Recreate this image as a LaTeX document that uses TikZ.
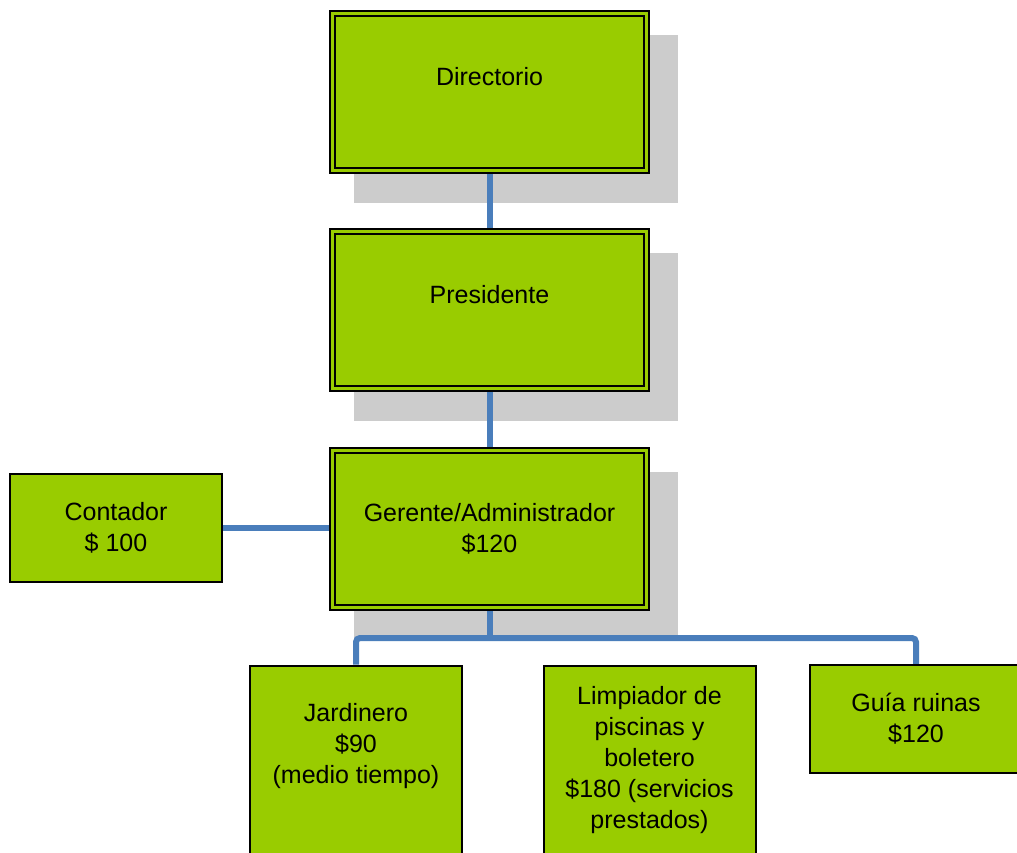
\documentclass[tikz,border=0pt]{standalone}
\usepackage{fontspec}
\setmainfont{Liberation Sans}
\usepackage{xcolor}
\usetikzlibrary{calc}
\usetikzlibrary{backgrounds}
\definecolor{verdecargo}{RGB}{153,204,0}
\definecolor{azulenlace}{RGB}{74,126,187}
\definecolor{grissombra}{RGB}{204,204,204}
\tikzset{
	jefe/.style={draw,fill=verdecargo,line width=2pt,double=verdecargo,double distance=3pt,minimum width=314pt,minimum height=157pt,align=center},
	puesto/.style={draw,fill=verdecargo,line width=2pt,minimum width=212pt,minimum height=108pt,align=center},
	enlace/.style={draw=azulenlace,line width=6pt},
	sombra/.style={fill=grissombra}
}

\begin{document}
\begin{tikzpicture}[x=1pt,y=-1pt,font=\fontsize{25}{31}\selectfont]
	\useasboundingbox (0,0) rectangle (1017,852);
	\node[jefe,text depth=32pt] (directorio) at (489.5,92) {Directorio};
	\node[jefe,text depth=30pt] (presidente) at (489.5,309.5) {Presidente};
	\node[jefe] (gerente) at (489.5,528.5) {Gerente/Administrador\\\$120};
	\node[puesto] (contador) at (116,528) {Contador\\\$ 100};
	\node[puesto,minimum height=189pt,text depth=33pt] (jardinero) at (356,760) {Jardinero\\\$90\\(medio tiempo)};
	\node[puesto,minimum height=189pt] (limpiador) at (649.5,760) {Limpiador de\\piscinas y\\boletero\\\$180 (servicios\\prestados)};
	\node[puesto] (guia) at (916,719) {Guía ruinas\\\$120};
	\coordinate (bus) at (489.5,638);
	\begin{scope}[on background layer]
		\foreach \n in {directorio,presidente,gerente}
			\fill[sombra] ($(\n.north west)+(22.5,22.5)$) rectangle ($(\n.south east)+(30.5,31.5)$);
		\draw[enlace] (directorio) -- (presidente);
		\draw[enlace] (presidente) -- (gerente);
		\draw[enlace] (gerente) -- (bus);
		\draw[enlace,rounded corners=4pt] (jardinero.north) |- (bus) -| (guia.north);
		\draw[enlace] (contador.east) -- (contador.east -| gerente.west);
	\end{scope}
\end{tikzpicture}
\end{document}
